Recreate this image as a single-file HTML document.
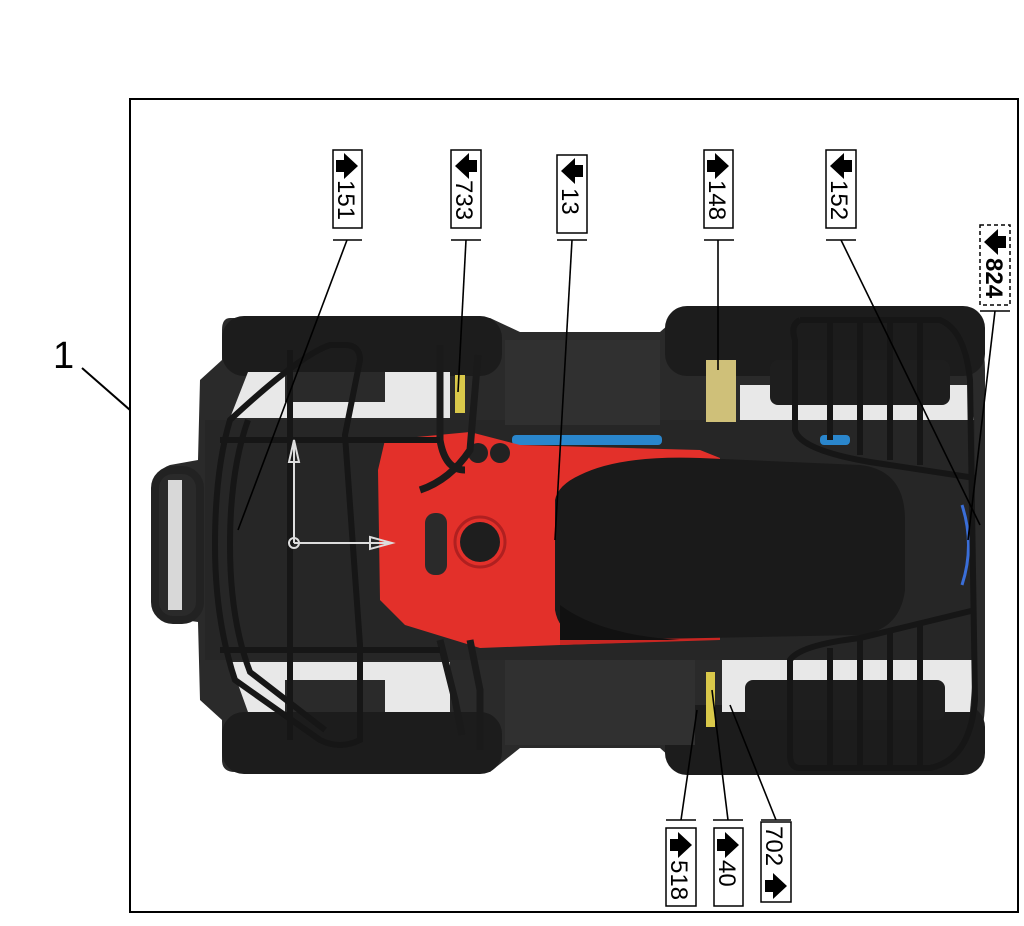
<!DOCTYPE html>
<html><head><meta charset="utf-8"><style>
html,body{margin:0;padding:0;background:#fff;width:1024px;height:926px;overflow:hidden}
svg{display:block}
text{font-family:"Liberation Sans",sans-serif}
</style></head><body>
<svg width="1024" height="926" viewBox="0 0 1024 926" xmlns="http://www.w3.org/2000/svg">
<defs>
<g id="arr"><path d="M-6,-11 L6,-11 L6,-3 L13,-3 L0,11 L-13,-3 L-6,-3Z" fill="#000"/></g>
</defs>
<rect x="130" y="99" width="888" height="813" fill="none" stroke="#000" stroke-width="2"/>
<text x="53" y="368" font-size="38">1</text>
<line x1="82" y1="368" x2="130" y2="410" stroke="#000" stroke-width="2"/>

<g>
<path d="M230,318 Q222,318 222,330 L222,360 L200,380 L198,460 L170,465 Q155,470 155,490 L155,595 Q155,615 170,618 L198,622 L200,700 L222,720 L222,760 Q222,772 235,772 L490,772 L520,748 L660,748 L690,775 L930,775 Q985,770 985,700 L985,370 Q985,310 930,306 L690,306 L660,332 L520,332 L490,318Z" fill="#2a2a2a"/>
<rect x="222" y="316" width="280" height="60" rx="22" fill="#1c1c1c"/>
<rect x="222" y="712" width="280" height="62" rx="22" fill="#1c1c1c"/>
<rect x="665" y="306" width="320" height="70" rx="22" fill="#1c1c1c"/>
<rect x="665" y="705" width="320" height="70" rx="22" fill="#1c1c1c"/>
<path d="M248,372 L450,372 L450,418 L230,418 Z" fill="#e8e8e8"/>
<rect x="285" y="372" width="100" height="30" fill="#2a2a2a"/>
<path d="M248,712 L450,712 L450,662 L230,662 Z" fill="#e8e8e8"/>
<rect x="285" y="680" width="100" height="32" fill="#2a2a2a"/>
<path d="M740,385 L970,385 L975,430 L740,430Z" fill="#e8e8e8"/>
<rect x="770" y="360" width="180" height="45" rx="8" fill="#1e1e1e"/>
<path d="M722,650 L975,650 L970,712 L722,712Z" fill="#e8e8e8"/>
<rect x="745" y="680" width="200" height="40" rx="8" fill="#1e1e1e"/>
<rect x="155" y="470" width="45" height="150" rx="18" fill="none" stroke="#222" stroke-width="8"/>
<rect x="168" y="480" width="14" height="130" fill="#d8d8d8"/>
<rect x="205" y="420" width="770" height="240" fill="#262626"/>
<rect x="505" y="340" width="155" height="85" fill="#303030"/>
<rect x="505" y="660" width="190" height="85" fill="#303030"/>
<rect x="512" y="435" width="150" height="10" rx="4" fill="#2a86cc"/>
<rect x="820" y="435" width="30" height="10" rx="4" fill="#2a86cc"/>
<path d="M962,505 Q975,545 962,585" fill="none" stroke="#3a6ed8" stroke-width="3"/>
<path d="M385,440 L470,432 L520,445 L700,450 L720,458 L720,635 L700,640 L560,645 L480,648 L405,625 L380,600 L378,470Z" fill="#e3302a"/>
<path d="M560,645 L720,640 L720,620 L560,620Z" fill="#c82622"/>
<rect x="425" y="513" width="22" height="62" rx="10" fill="#2a2a2a"/>
<circle cx="480" cy="542" r="20" fill="#1e1e1e"/>
<circle cx="480" cy="542" r="25" fill="none" stroke="#b02020" stroke-width="3"/>
<circle cx="478" cy="453" r="10" fill="#222"/><circle cx="500" cy="453" r="10" fill="#222"/>
<path d="M580,475 Q620,455 700,458 L860,465 Q905,470 905,520 L905,590 Q900,630 860,635 L600,640 Q560,640 555,610 L555,500 Q558,485 580,475Z" fill="#1a1a1a"/>
<path d="M560,605 Q600,635 680,640 L560,640Z" fill="#111"/>
<rect x="706" y="360" width="30" height="62" fill="#cfc079"/>
<rect x="455" y="375" width="10" height="38" fill="#d9c84a"/>
<rect x="706" y="672" width="9" height="55" fill="#d9c84a"/>
<path d="M440,345 L440,440 Q445,470 465,470" fill="none" stroke="#1a1a1a" stroke-width="7"/>
<path d="M478,355 L470,450 Q450,480 420,490" fill="none" stroke="#1a1a1a" stroke-width="7"/>
<path d="M440,640 L455,700 L462,735" fill="none" stroke="#1a1a1a" stroke-width="7"/>
<path d="M470,640 L480,690 L480,750" fill="none" stroke="#1a1a1a" stroke-width="7"/>
<g fill="none" stroke="#161616" stroke-width="6">
<path d="M230,420 Q215,470 215,545 Q215,620 235,680 L320,740 Q340,750 360,740 L360,645 L345,435 L360,360 Q360,345 345,345 L330,345 Q300,355 230,420Z"/>
<path d="M248,420 Q230,470 230,545 Q230,620 250,672 L325,730"/>
<line x1="220" y1="440" x2="440" y2="440"/>
<line x1="220" y1="650" x2="440" y2="650"/>
<line x1="290" y1="350" x2="290" y2="740"/>
</g>
<g fill="none" stroke="#161616" stroke-width="6">
<path d="M800,320 L940,320 Q965,330 970,380 L975,700 Q970,760 930,768 L800,768 Q790,768 790,755 L790,660 Q800,645 860,638 L975,610"/>
<path d="M800,320 Q790,325 795,340 L795,430 Q800,450 870,462 L975,478"/>
<line x1="830" y1="320" x2="830" y2="440"/><line x1="860" y1="320" x2="860" y2="455"/><line x1="890" y1="320" x2="890" y2="460"/><line x1="920" y1="320" x2="920" y2="465"/>
<line x1="830" y1="648" x2="830" y2="768"/><line x1="860" y1="640" x2="860" y2="768"/><line x1="890" y1="632" x2="890" y2="768"/><line x1="920" y1="625" x2="920" y2="768"/>
</g>
<g stroke="#ddd" stroke-width="2" fill="none">
<line x1="294" y1="543" x2="294" y2="440"/><path d="M289,462 L294,440 L299,462Z"/>
<line x1="294" y1="543" x2="390" y2="543"/><path d="M370,537 L392,543 L370,549Z"/>
<circle cx="294" cy="543" r="5"/>
</g>
</g>

<g stroke="#000" stroke-width="1.6" fill="none">
<line x1="333" y1="240" x2="362" y2="240"/><line x1="347" y1="240" x2="238" y2="530"/>
<line x1="451" y1="240" x2="481" y2="240"/><line x1="466" y1="240" x2="458" y2="392"/>
<line x1="557" y1="240" x2="587" y2="240"/><line x1="572" y1="240" x2="555" y2="540"/>
<line x1="704" y1="240" x2="734" y2="240"/><line x1="718" y1="240" x2="718" y2="370"/>
<line x1="826" y1="240" x2="856" y2="240"/><line x1="841" y1="240" x2="980" y2="525"/>
<line x1="980" y1="311" x2="1010" y2="311"/><line x1="995" y1="311" x2="968" y2="540"/>
<line x1="666" y1="820" x2="696" y2="820"/><line x1="681" y1="820" x2="697" y2="710"/>
<line x1="713" y1="820" x2="743" y2="820"/><line x1="728" y1="820" x2="712" y2="690"/>
<line x1="761" y1="820" x2="791" y2="820"/><line x1="776" y1="820" x2="730" y2="705"/>
</g>

<g fill="#fff" stroke="#000" stroke-width="1.5">
<rect x="333" y="150" width="29" height="78"/>
<rect x="451" y="150" width="30" height="78"/>
<rect x="557" y="155" width="30" height="78"/>
<rect x="704" y="150" width="29" height="78"/>
<rect x="826" y="150" width="30" height="78"/>
<rect x="980" y="225" width="30" height="80" stroke-dasharray="4,3"/>
<rect x="666" y="828" width="30" height="78"/>
<rect x="714" y="828" width="29" height="78"/>
<rect x="761" y="822" width="30" height="80"/>
</g>
<g font-size="24">
<use href="#arr" transform="translate(347,166) rotate(-90)"/>
<text transform="translate(338,180) rotate(90)">151</text>
<use href="#arr" transform="translate(466,166) rotate(90)"/>
<text transform="translate(456,180) rotate(90)">733</text>
<use href="#arr" transform="translate(572,171) rotate(90)"/>
<text transform="translate(562,188) rotate(90)">13</text>
<use href="#arr" transform="translate(718,166) rotate(-90)"/>
<text transform="translate(709,180) rotate(90)">148</text>
<use href="#arr" transform="translate(841,166) rotate(90)"/>
<text transform="translate(831,180) rotate(90)">152</text>
<use href="#arr" transform="translate(995,242) rotate(90)"/>
<text transform="translate(986,258) rotate(90)" font-weight="bold">824</text>
<use href="#arr" transform="translate(681,845) rotate(-90)"/>
<text transform="translate(671,860) rotate(90)">518</text>
<use href="#arr" transform="translate(728,845) rotate(-90)"/>
<text transform="translate(719,860) rotate(90)">40</text>
<text transform="translate(766,826) rotate(90)">702</text>
<use href="#arr" transform="translate(776,886) rotate(-90)"/>
</g>
</svg>
</body></html>
